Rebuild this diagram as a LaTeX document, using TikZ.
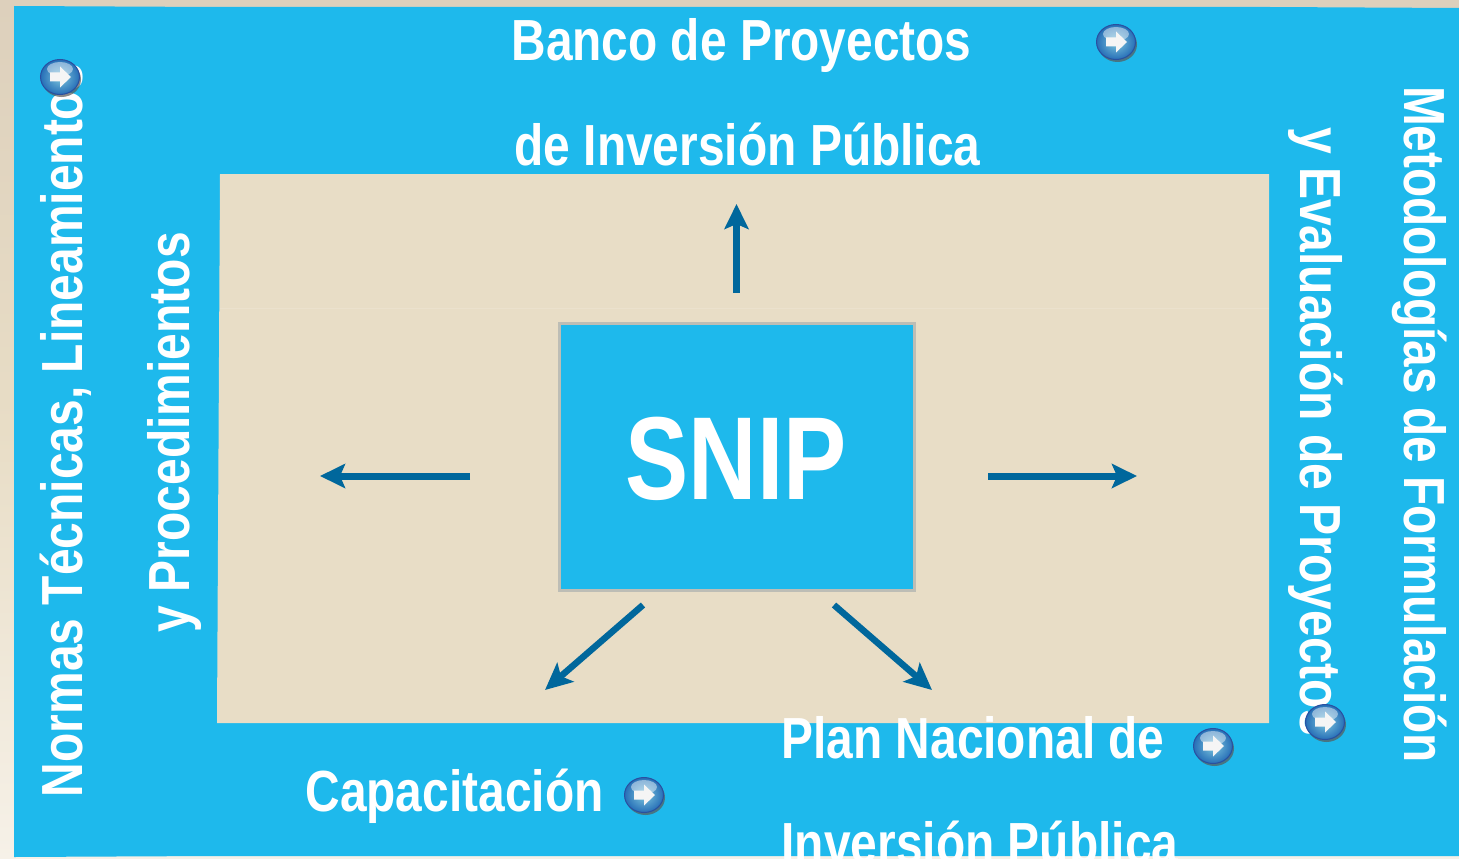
\documentclass[tikz,border=0pt]{standalone}
\usepackage{fontspec}
\usepackage{graphicx}
\setmainfont{Liberation Sans}[BoldFont={Liberation Sans Bold}]
\usetikzlibrary{arrows.meta}
\usetikzlibrary{shapes.geometric}
\definecolor{panel}{HTML}{1EB9EC}
\definecolor{sand}{HTML}{E8DDC6}
\definecolor{arrowblue}{HTML}{00679C}
\definecolor{edgegray}{HTML}{BDBDB5}
\definecolor{bgtop}{HTML}{DDD0BC}
\definecolor{bgmid}{HTML}{E8DDC6}
\definecolor{bgbot}{HTML}{F6F1E8}
\definecolor{ballrim}{HTML}{2A4FA0}
\definecolor{ballcore}{HTML}{7CC6DE}
\newcommand{\lab}[2]{\resizebox{#1pt}{\height}{#2}}
\tikzset{
  x=1pt,y=-1pt,
  panelfill/.style={fill=panel,draw=none},
  lbl/.style={text=white,font=\bfseries\fontsize{58}{58}\selectfont,inner sep=0pt,outer sep=0pt},
  flow/.style={draw=arrowblue,line width=7pt,-{Stealth[length=25pt,width=24pt,inset=5pt]}},
  flowthin/.style={draw=arrowblue,line width=6.5pt,-{Stealth[length=27pt,width=25pt,inset=6pt]}},
}
\newcommand{\btn}[3]{%
  \fill[black!65,opacity=.7] (#2+1.5,#3+2.5) ellipse [x radius=19.5pt,y radius=17.5pt];
  \node[ellipse,minimum width=39pt,minimum height=35pt,inner sep=0pt,draw=ballrim,line width=1pt,
        inner color=ballcore,outer color=ballrim!70!panel] (#1) at (#2,#3) {};
  \fill[white,opacity=.45] (#2,#3-8) ellipse [x radius=13pt,y radius=7pt];
  \fill[white!92!gray] (#1.center) ++(-10,-4.5) -- ++(10,0) -- ++(0,-6) -- ++(11,10.5) -- ++(-11,10.5) -- ++(0,-6) -- ++(-10,0) -- cycle;
}
\begin{document}
\begin{tikzpicture}
\useasboundingbox (0,0) rectangle (1459,859);
% page background
\shade[top color=bgtop,bottom color=bgbot,middle color=bgmid] (0,0) rectangle (1459,859);
% panels
\fill[panelfill] (14,6) -- (215,7) -- (1270,7) -- (1459,8) -- (1459,856) -- (1270,856) -- (215,856) -- (14,857) -- cycle;
% central field
\fill[sand] (220,174) -- (1269,174) -- (1269,723) -- (217,723) -- cycle;
\draw[white!12!sand,line width=.8pt] (220,308) -- (1269,308);
% centre box
\node[draw=edgegray,fill=panel,line width=3pt,minimum width=355pt,minimum height=267pt,inner sep=0pt] (snip) at (736.5,456.5) {};
\node[lbl,anchor=base,font=\bfseries\fontsize{118}{118}\selectfont] (sniptext) at (736,499) {\lab{221}{SNIP}};
% connector ends
\coordinate (upS) at (736.5,293);  \coordinate (upE) at (736.5,204);
\coordinate (leS) at (470,476);    \coordinate (leE) at (320,476);
\coordinate (riS) at (988,476);    \coordinate (riE) at (1137,476);
\coordinate (dlS) at (643,605);    \coordinate (dlE) at (545,690);
\coordinate (drS) at (834,605);    \coordinate (drE) at (932,690);
\draw[flow] (upS) -- (upE);
\draw[flow] (leS) -- (leE);
\draw[flow] (riS) -- (riE);
\draw[flowthin] (dlS) -- (dlE);
\draw[flowthin] (drS) -- (drE);
% top and bottom labels
\node[lbl,anchor=base west] (t1) at (511.5,60) {\lab{460}{Banco de Proyectos}};
\node[lbl,anchor=base west] (t2) at (514.5,165) {\lab{466}{de Inversión Pública}};
\node[lbl,anchor=base west] (t3) at (305.5,811) {\lab{298}{Capacitación}};
\node[lbl,anchor=base west] (t4) at (781.5,758) {\lab{383}{Plan Nacional de}};
\node[lbl,anchor=base west] (t5) at (781.5,863) {\lab{397}{Inversión Pública}};
% side labels
\node[lbl,anchor=base west,rotate=90] (l1) at (82.5,797) {\lab{733}{Normas Técnicas, Lineamientos}};
\node[lbl,anchor=base west,rotate=90] (l2) at (189.5,632) {\lab{400}{y Procedimientos}};
\node[lbl,anchor=base west,rotate=-90] (r1) at (1404.5,86) {\lab{677}{Metodologías de Formulación}};
\node[lbl,anchor=base west,rotate=-90] (r2) at (1300,127) {\lab{609}{y Evaluación de Proyectos}};
% buttons
\btn{b1}{60}{77}
\btn{b2}{1116}{42}
\btn{b3}{644}{795}
\btn{b4}{1213}{746}
\btn{b5}{1325}{722}
\end{tikzpicture}
\end{document}
